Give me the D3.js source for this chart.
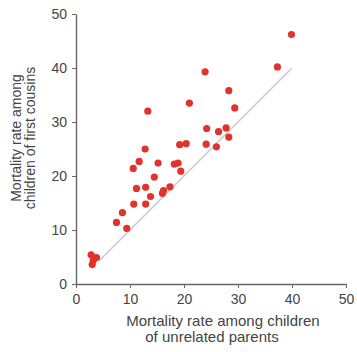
<!DOCTYPE html>
<html>
<head>
<meta charset="utf-8">
<script src="https://cdn.jsdelivr.net/npm/d3@7.9.0/dist/d3.min.js"></script>
<style>
  body { margin: 0; background: #fff; }
  svg { display: block; font-family: "Liberation Sans", Arial, sans-serif; }
  .axis path, .axis line { stroke: #666; }
  .axis text { fill: #444; font-size: 14px; }
  .axis-label { fill: #444; font-size: 14px; }
  .x-label { font-size: 15px; }
</style>
</head>
<body>
<div id="chart"></div>
<script>
// mortality among children of unrelated parents (x) vs first cousins (y)
const unrelated = [2.8, 3.8, 3.2, 3.0, 7.5, 8.6, 9.4, 10.7, 12.9, 11.2, 12.9, 13.8, 14.5, 10.6, 11.7, 15.2, 12.8, 13.3,
    16.0, 16.2, 17.4, 18.2, 18.9, 19.4, 19.2, 20.4, 21.0, 24.1, 26.0, 24.2, 26.4, 27.8, 28.3, 29.4, 28.3, 23.9, 37.3, 39.9];
const cousins = [5.4, 4.9, 4.4, 3.6, 11.4, 13.2, 10.3, 14.8, 14.8, 17.7, 17.9, 16.2, 19.8, 21.4, 22.7, 22.4, 25.0, 32.0,
    16.8, 17.3, 18.0, 22.2, 22.4, 20.9, 25.8, 26.0, 33.5, 25.9, 25.4, 28.8, 28.2, 28.9, 27.2, 32.6, 35.8, 39.3, 40.2, 46.2];
const equalLine = [4.3, 39.9]; // reference line y = x
const xTicks = [0, 10, 20, 30, 40, 50];
const yTicks = [0, 10, 20, 30, 40, 50];

const width = 357, height = 352;
const margin = { top: 14, right: 11, bottom: 68, left: 76 };

const svg = d3.select("#chart").append("svg")
    .attr("width", width)
    .attr("height", height);

const x = d3.scaleLinear().domain([0, 50]).range([margin.left, width - margin.right]);
const y = d3.scaleLinear().domain([0, 50]).range([height - margin.bottom, margin.top]);

// y = x line
svg.append("line")
    .attr("x1", x(equalLine[0]))
    .attr("y1", y(equalLine[0]))
    .attr("x2", x(equalLine[1]))
    .attr("y2", y(equalLine[1]))
    .attr("stroke", "#c9c8d8")
    .attr("stroke-width", 1.6);

svg.append("g")
    .attr("class", "axis")
    .attr("transform", `translate(0,${y(0)})`)
    .call(d3.axisBottom(x).tickValues(xTicks).tickSize(4).tickSizeOuter(0).tickPadding(6))
    .call(g => g.select(".domain").attr("stroke-width", 1.4));

svg.append("g")
    .attr("class", "axis")
    .attr("transform", `translate(${x(0)},0)`)
    .call(d3.axisLeft(y).tickValues(yTicks).tickSize(4).tickSizeOuter(0).tickPadding(5))
    .call(g => g.select(".domain").attr("stroke-width", 1.4));

// points
svg.append("g")
    .selectAll("circle")
    .data(unrelated.map((d, i) => [d, cousins[i]]))
    .enter().append("circle")
    .attr("cx", d => x(d[0]))
    .attr("cy", d => y(d[1]))
    .attr("r", 3.6)
    .attr("fill", "#e2322b");

// axis labels
svg.append("text")
    .attr("class", "axis-label x-label")
    .attr("x", 223)
    .attr("y", 326)
    .attr("text-anchor", "middle")
    .text("Mortality rate among children");

svg.append("text")
    .attr("class", "axis-label x-label")
    .attr("x", 212)
    .attr("y", 342)
    .attr("text-anchor", "middle")
    .text("of unrelated parents");

svg.append("text")
    .attr("class", "axis-label")
    .attr("transform", "rotate(-90)")
    .attr("x", -138)
    .attr("y", 21)
    .attr("text-anchor", "middle")
    .text("Mortality rate among");

svg.append("text")
    .attr("class", "axis-label")
    .attr("transform", "rotate(-90)")
    .attr("x", -138)
    .attr("y", 35)
    .attr("text-anchor", "middle")
    .text("children of first cousins");
</script>
</body>
</html>
